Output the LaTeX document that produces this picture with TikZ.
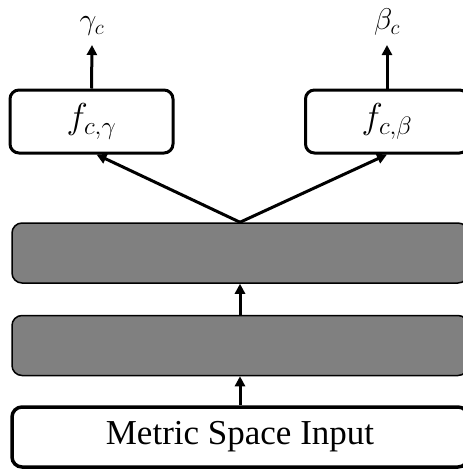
\documentclass[tikz,border=0pt]{standalone}
\usepackage{fix-cm}
\usepackage{fontspec}
\setmainfont{Liberation Serif}
\usepackage{tikz}
\usetikzlibrary{positioning,arrows.meta}
\definecolor{layergray}{HTML}{808080}

\tikzset{
  headbox/.style={draw, line width=3pt, rounded corners=9pt, fill=white,
    minimum width=163pt, minimum height=63pt, inner sep=0pt,
    font=\fontsize{36}{40}\selectfont},
  layerbox/.style={draw, line width=1.5pt, rounded corners=10pt, fill=layergray,
    minimum width=456pt, minimum height=60pt, inner sep=0pt},
  inbox/.style={draw, line width=3.5pt, rounded corners=10pt, fill=white,
    minimum width=456pt, minimum height=60pt, inner sep=0pt,
    font=\fontsize{35}{40}\selectfont},
  outlbl/.style={anchor=south, inner sep=0pt, inner ysep=9pt,
    font=\fontsize{30}{34}\selectfont},
  flow/.style={-{Triangle[length=10pt,width=10pt]}, line width=3pt}
}

\begin{document}
\begin{tikzpicture}[x=1pt, y=-1pt]
  \useasboundingbox (0,0) rectangle (463,472);
  \clip (0,0) rectangle (463,472);
  % input and hidden layers
  \node[inbox] (inp) at (240,437) {Metric Space Input};
  \node[layerbox] (hid2) at (240,345.5) {};
  \node[layerbox] (hid1) at (240,253) {};
  % output heads
  \node[headbox] (fgam) at (91.5,121.5) {$f_{c,\gamma}$};
  \node[headbox] (fbet) at (387,121.5) {$f_{c,\beta}$};
  \node[outlbl] (gam) at (92,45) {$\gamma_c$};
  \node[outlbl] (bet) at (387,45) {$\beta_c$};
  % connections
  \draw[flow] (inp.north) -- (hid2.south);
  \draw[flow] (hid2.north) -- (hid1.south);
  \draw[flow] (hid1.north) -- ([xshift=5pt]fgam.south);
  \draw[flow] (hid1.north) -- (fbet.south);
  \draw[flow] (fgam.north) -- (gam.south);
  \draw[flow] (fbet.north) -- (bet.south);
\end{tikzpicture}
\end{document}
